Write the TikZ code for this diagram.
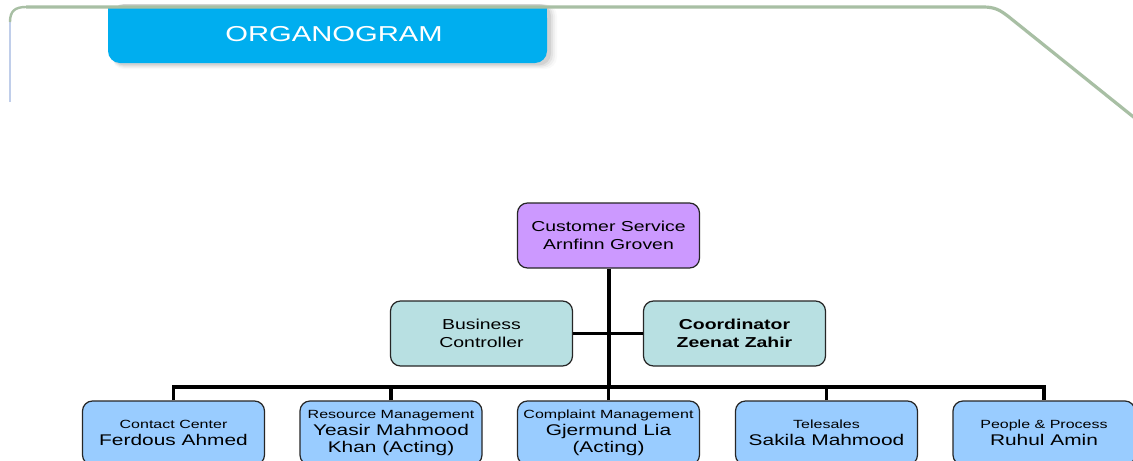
\documentclass[tikz,border=0pt]{standalone}
\usepackage{fontspec}
\setmainfont{Liberation Sans}[FakeStretch=1.35]
\usetikzlibrary{positioning}
\definecolor{tabblue}{HTML}{00AEEF}
\definecolor{framegreen}{HTML}{A8BFA4}
\definecolor{frameblue}{HTML}{C0CEEA}
\definecolor{headpurple}{HTML}{CC99FF}
\definecolor{staffteal}{HTML}{B8E0E2}
\definecolor{unitblue}{HTML}{99CCFF}
\begin{document}
\begin{tikzpicture}[x=0.75pt,y=-0.75pt,
  orgbox/.style={draw=black!85, line width=0.9pt, rounded corners=7.5pt,
    minimum width=136.5pt, align=center, inner sep=0pt},
  headbox/.style={orgbox, fill=headpurple, minimum height=48.75pt,
    font=\fontsize{10.8}{13.5}\selectfont},
  staffbox/.style={orgbox, fill=staffteal, minimum height=48.75pt,
    font=\fontsize{10.8}{13.5}\selectfont},
  unitbox/.style={orgbox, fill=unitblue, minimum height=48pt,
    font=\fontsize{11.6}{12.6}\selectfont},
  trunk/.style={line width=3pt, black},
  branch/.style={line width=2.6pt, black}
]
\useasboundingbox (0,0) rectangle (1133,461);
\fill[white] (0,0) rectangle (1133,461);

% title tab shadow (soft)
\foreach \o/\a in {10/0.025,8/0.035,6/0.05,4/0.07}{
  \fill[black,opacity=\a,rounded corners=9pt]
    (112,4) rectangle (547+\o,63+\o*0.6);
}
% title tab
\fill[tabblue,rounded corners=9pt] (108,6) rectangle (547,63);
\fill[tabblue] (108,6) rectangle (547,30);
\node[text=white, font=\fontsize{16.2}{18}\selectfont] (title) at (334,34) {ORGANOGRAM};

% frame
\draw[frameblue, line width=1.6pt] (10,102) -- (10,22);
\draw[framegreen, line width=1.8pt] (10,22) .. controls (10,11) and (15,7) .. (26,7);
\draw[framegreen, line width=2.4pt] (26,7) -- (983,7)
  .. controls (995,7) and (1000,10) .. (1009,17) -- (1136,119);

% nodes
\node[headbox] (cs) at (608.5,235.5) {Customer Service\\Arnfinn Groven};
\node[staffbox] (bc) at (481.5,333.5) {Business\\Controller};
\node[staffbox, font=\bfseries\fontsize{10.8}{13.5}\selectfont] (co) at (734.5,333.5) {Coordinator\\Zeenat Zahir};

\node[unitbox] (u1) at (173.5,433) {{\fontsize{8.9}{12.6}\selectfont Contact Center}\\Ferdous Ahmed};
\node[unitbox] (u2) at (391,433) {{\fontsize{8.9}{12.6}\selectfont Resource Management}\\Yeasir Mahmood\\Khan (Acting)};
\node[unitbox] (u3) at (608.5,433) {{\fontsize{8.9}{12.6}\selectfont Complaint Management}\\Gjermund Lia\\(Acting)};
\node[unitbox] (u4) at (826.5,433) {{\fontsize{8.9}{12.6}\selectfont Telesales}\\Sakila Mahmood};
\node[unitbox] (u5) at (1044,433) {{\fontsize{8.9}{12.6}\selectfont People \& Process}\\Ruhul Amin};

% connectors
\coordinate (bar) at (608.5,387);
\draw[trunk] (cs.south) -- (bar);
\draw[branch] (bc.east) -- (co.west);
\draw[branch] (u1.north) |- (bar) -| (u5.north);
\draw[branch] (u2.north) -- (u2.north |- bar);
\draw[branch] (u3.north) -- (bar);
\draw[branch] (u4.north) -- (u4.north |- bar);
\end{tikzpicture}
\end{document}
